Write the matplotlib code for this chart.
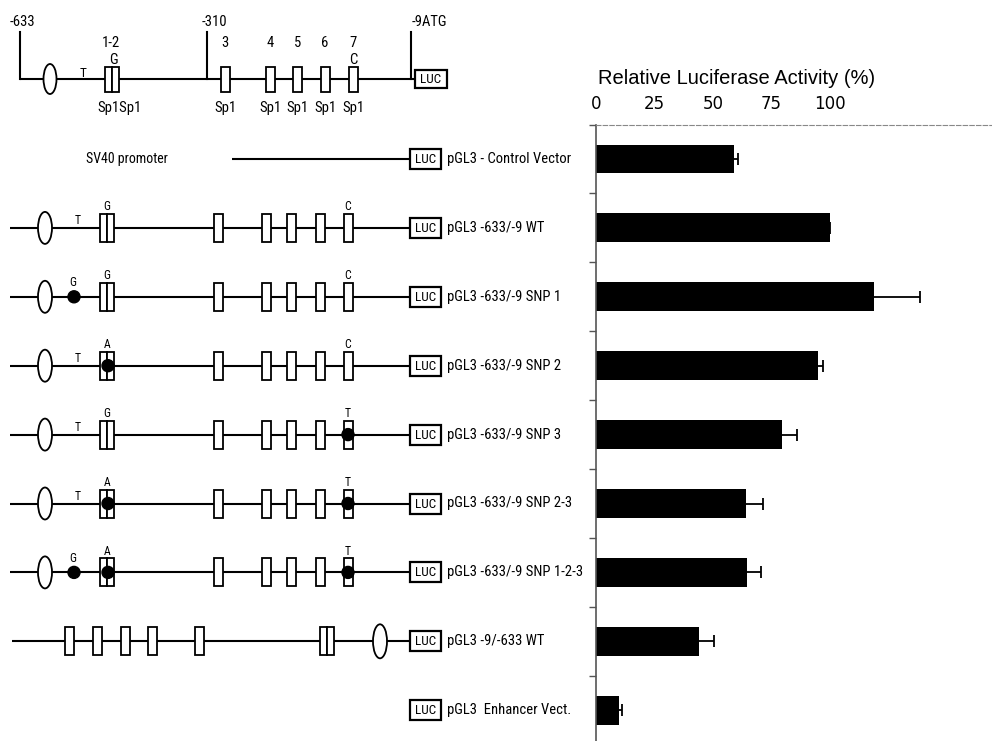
import numpy as np
import matplotlib
matplotlib.use('Agg')
import matplotlib.pyplot as plt
from matplotlib.patches import Rectangle, Ellipse, Circle

# ---- data -------------------------------------------------------------
constructs = ['pGL3 - Control Vector', 'pGL3 -633/-9 WT', 'pGL3 -633/-9 SNP 1',
              'pGL3 -633/-9 SNP 2', 'pGL3 -633/-9 SNP 3', 'pGL3 -633/-9 SNP 2-3',
              'pGL3 -633/-9 SNP 1-2-3', 'pGL3 -9/-633 WT', 'pGL3  Enhancer Vect.']
activity = [59, 100, 119, 95, 79.5, 64, 64.5, 44, 10]
act_err = [1.7, 0, 19.5, 2.2, 6.5, 7.5, 6, 6.5, 1]
xticks = [0, 25, 50, 75, 100]

# construct layout per row and allele at the three SNP sites
kind = ['sv40', 'fwd', 'fwd', 'fwd', 'fwd', 'fwd', 'fwd', 'rev', 'empty']
allele1 = [None, 'T', 'G', 'T', 'T', 'T', 'G', None, None]
allele2 = [None, 'G', 'G', 'A', 'G', 'A', 'A', None, None]
allele3 = [None, 'C', 'C', 'C', 'T', 'T', 'T', None, None]
mutant = {1: 'G', 2: 'A', 3: 'T'}

# promoter element positions (diagram units = pixels)
hdr_sites = [225, 270, 297.5, 325, 353.5]
row_sites = [218, 266, 291, 320, 348]
rev_sites = [69, 97, 125, 152, 199]

# ---- layout -----------------------------------------------------------
W, H = 992, 741
ROW0, STEP = 159, 68.9
HDR_Y = 79
rows_y = [ROW0 + STEP * i for i in range(len(constructs))]

plt.rcParams['font.family'] = ['Roboto Condensed', 'Roboto', 'DejaVu Sans']
fig = plt.figure(figsize=(W / 100, H / 100), dpi=100)

axd = fig.add_axes([0, 0, 1, 1])
axd.set_xlim(0, W)
axd.set_ylim(H, 0)
axd.axis('off')


def line(x0, x1, y, lw=1.5):
    axd.plot([x0, x1], [y, y], color='black', lw=lw, zorder=1, solid_capstyle='butt')


def box(x, y, w=9, h=28, lw=1.3):
    axd.add_patch(Rectangle((x - w / 2, y - h / 2), w, h, fc='white', ec='black', lw=lw, zorder=3))


def double_box(x, y, h=28):
    box(x - 3.5, y, 7, h)
    box(x + 3.5, y, 7, h)


def oval(x, y, w=14, h=32):
    axd.add_patch(Ellipse((x, y), w, h, fc='white', ec='black', lw=1.3, zorder=3))


def snp_dot(x, y):
    axd.add_patch(Circle((x, y), 6, fc='black', ec='black', zorder=5))


def luc(x, y, w=31, h=20):
    box(x + w / 2, y, w, h, lw=1.6)
    axd.text(x + w / 2, y + 0.5, 'LUC', ha='center', va='center', fontsize=9.5, zorder=6)


def small(x, y, s, fs=8.5):
    axd.text(x, y, s, ha='center', va='center', fontsize=fs)


# header map
for xv in (20, 207, 411):
    axd.plot([xv, xv], [32, HDR_Y], color='black', lw=1.5)
axd.text(22, 22, '-633', ha='center', va='center', fontsize=10.5)
axd.text(214, 22, '-310', ha='center', va='center', fontsize=10.5)
axd.text(429, 22, '-9ATG', ha='center', va='center', fontsize=10.5)
line(20, 415, HDR_Y)
oval(50, HDR_Y, 13, 30)
axd.text(83, HDR_Y + 1, 'T', ha='center', va='bottom', fontsize=9.5)
double_box(111.5, HDR_Y, 25)
small(113, 60, 'G', 10.5)
small(111, 43, '1-2', 10.5)
small(119, 108, 'Sp1Sp1', 10.5)
for i, xs in enumerate(hdr_sites):
    box(xs, HDR_Y, 9, 25)
    small(xs, 43, str(i + 3), 10.5)
    small(xs, 108, 'Sp1', 10.5)
small(hdr_sites[-1], 60, 'C', 10.5)
luc(415, HDR_Y, 32, 18)

# construct rows
for i, y in enumerate(rows_y):
    k = kind[i]
    if k == 'sv40':
        axd.text(127, y, 'SV40 promoter', ha='center', va='center', fontsize=10)
        line(232, 410, y)
    elif k == 'fwd':
        line(10, 410, y)
        oval(45, y)
        if allele1[i] == mutant[1]:
            snp_dot(74, y)
            small(73, y - 14, allele1[i], 8.5)
        else:
            small(78, y - 7, allele1[i], 8.5)
        double_box(107, y)
        if allele2[i] == mutant[2]:
            snp_dot(108, y)
        small(107, y - 21, allele2[i], 8.5)
        for xs in row_sites:
            box(xs, y)
        if allele3[i] == mutant[3]:
            snp_dot(row_sites[-1], y)
        small(row_sites[-1], y - 21, allele3[i], 8.5)
    elif k == 'rev':
        line(12, 410, y)
        for xs in rev_sites:
            box(xs, y)
        double_box(327, y)
        oval(380, y, 14, 34)
    luc(410, y)
    axd.text(447, y, constructs[i], ha='left', va='center', fontsize=10.5)

# ---- bar chart --------------------------------------------------------
top_px = ROW0 - STEP / 2
bot_px = ROW0 + STEP * (len(constructs) - 0.5)
ax = fig.add_axes([596 / W, 1 - bot_px / H, 1 - 596 / W, (bot_px - top_px) / H])
ax.set_facecolor('none')
ypos = np.arange(len(constructs))
bars = ax.barh(ypos, activity, height=0.42, color='black',
               xerr=[np.zeros(len(act_err)), act_err],
               error_kw=dict(ecolor='black', elinewidth=1.3, capsize=4.5, capthick=1.3))
# one-sided error bars: hide the caps sitting on the bar ends
for cap in bars.errorbar.lines[1]:
    if np.allclose(cap.get_xdata(), activity):
        cap.set_visible(False)
ax.set_xlim(0, (W - 596) / 2.34)
ax.set_ylim(len(constructs) - 0.5, -0.5)
ax.xaxis.tick_top()
ax.set_xticks(xticks)
ax.set_xticklabels([str(t) for t in xticks], family='DejaVu Sans', fontsize=12)
ax.tick_params(axis='x', length=0, pad=8)
ax.set_yticks(np.arange(-0.5, len(constructs), 1))
ax.set_yticklabels([])
ax.tick_params(axis='y', length=5, color='#555555', width=1)
ax.spines['right'].set_visible(False)
ax.spines['bottom'].set_visible(False)
ax.spines['left'].set_color('#555555')
ax.spines['left'].set_linewidth(1.2)
ax.spines['top'].set_color('#888888')
ax.spines['top'].set_linestyle((0, (4, 2)))
ax.spines['top'].set_linewidth(0.8)
ax.text(0.005, 1 + (top_px - 78) / (bot_px - top_px), 'Relative Luciferase Activity (%)',
        transform=ax.transAxes, ha='left', va='center', fontsize=14.5, family='Liberation Sans')

fig.savefig('out.png', dpi=100)
